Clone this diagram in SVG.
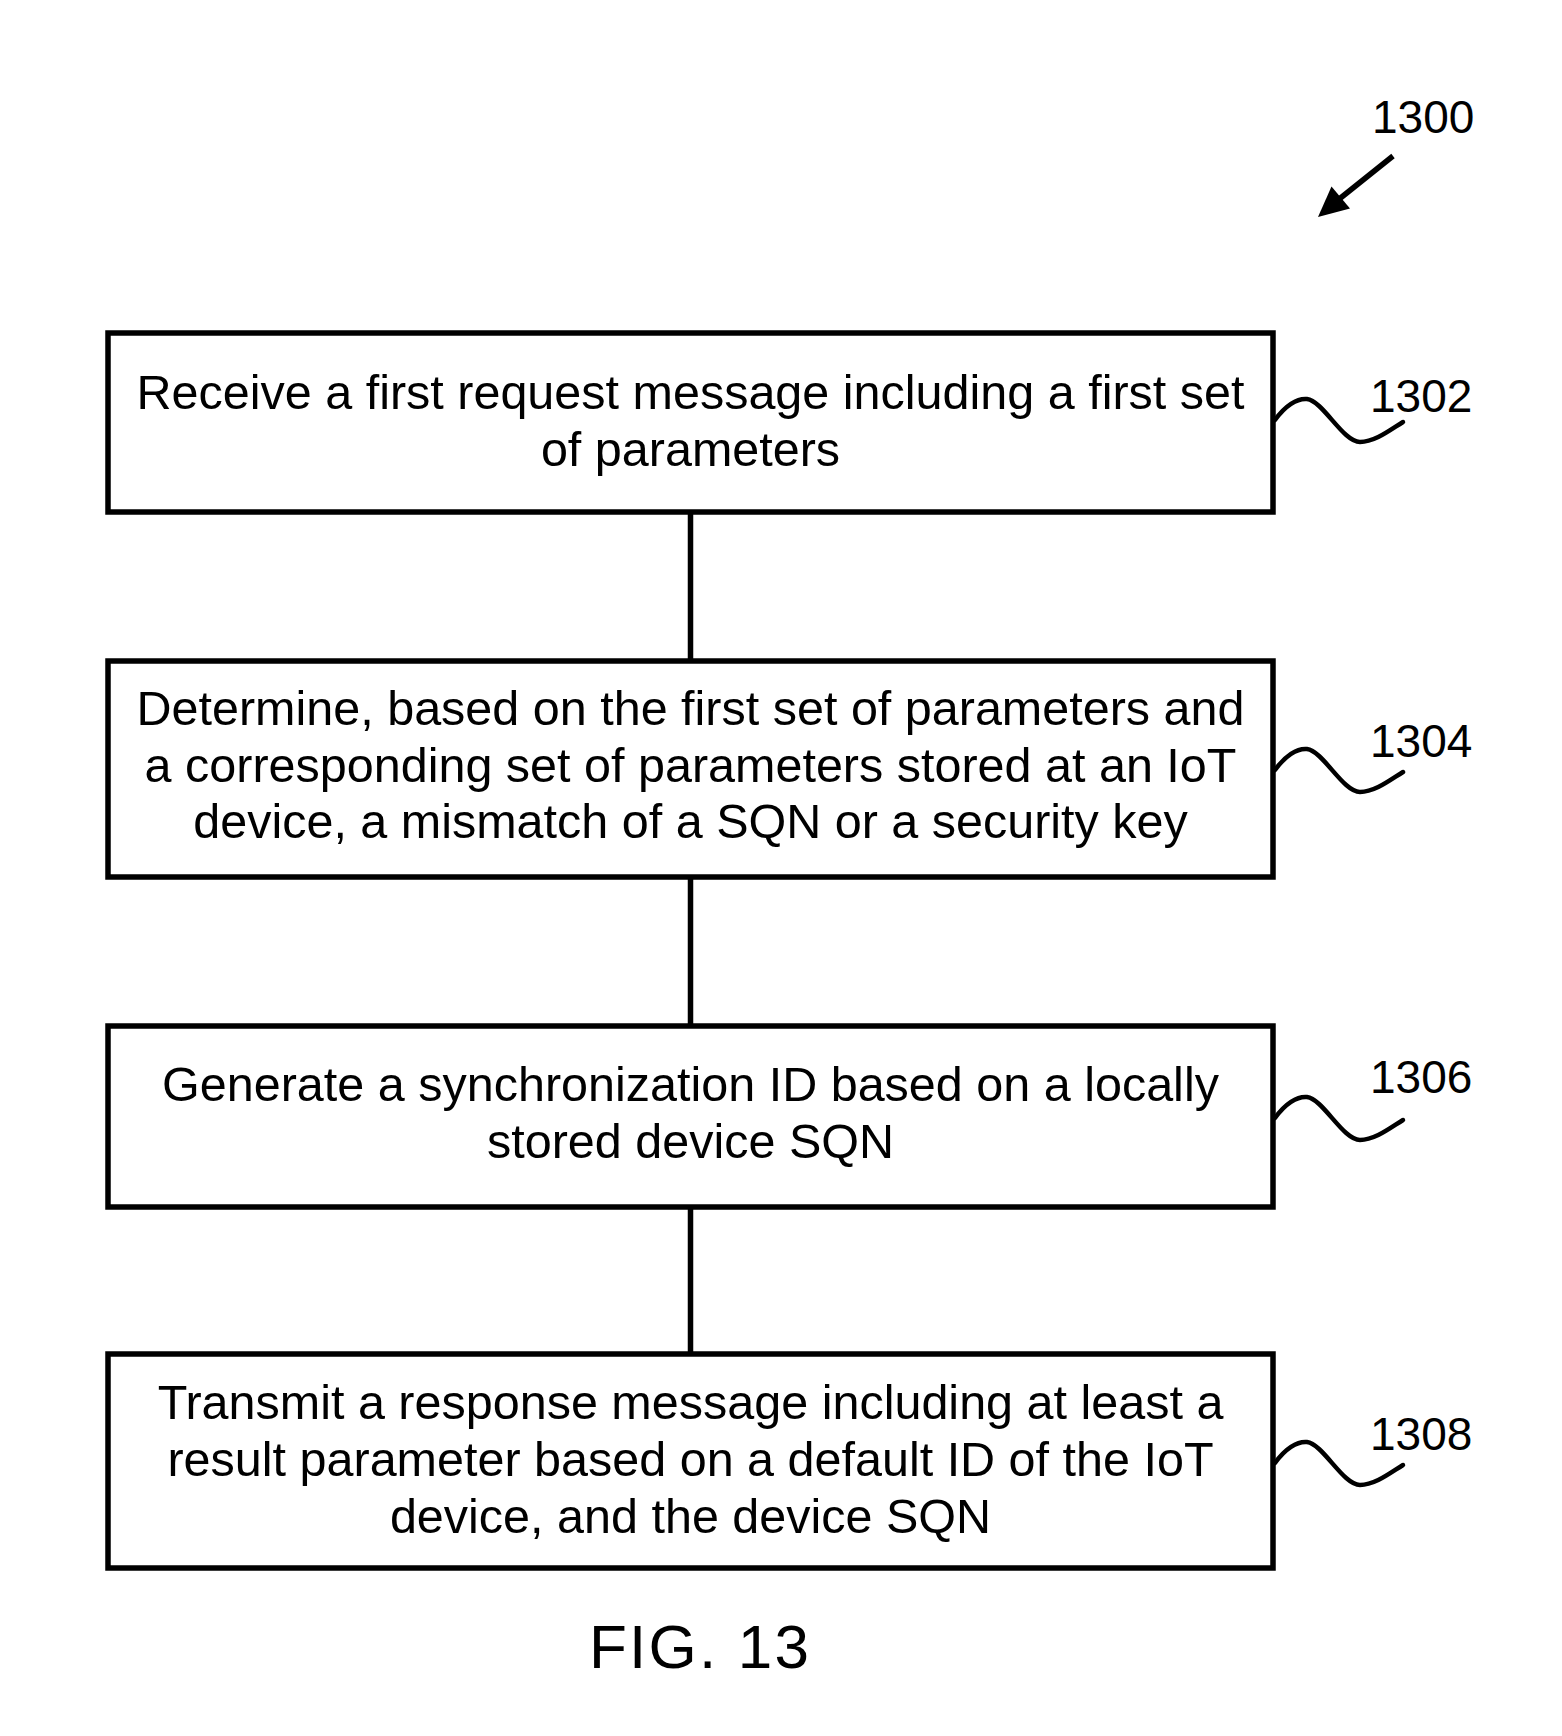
<svg xmlns="http://www.w3.org/2000/svg" xmlns:xlink="http://www.w3.org/1999/xlink" width="1562" height="1736" viewBox="0 0 1562 1736">
<style>
.box{fill:#fff;stroke:#000;stroke-width:5.5}
.txt{font-family:"Liberation Sans",Arial,sans-serif;font-size:48.5px;fill:#000;text-anchor:middle}
.lbl{font-family:"Liberation Sans",Arial,sans-serif;font-size:46px;fill:#000}
.conn{stroke:#000;stroke-width:5.5;fill:none}
.sq{stroke:#000;stroke-width:4.5;fill:none;stroke-linecap:round}
</style>
<defs>
<path id="squig" d="M0,0 C10,-14 22,-22 32,-21 C48,-19 68,22 85,22 C100,22 115,10 128,2"/>
</defs>
<rect width="1562" height="1736" fill="#fff"/>
<g id="ref1300">
<text class="lbl" x="1372" y="133">1300</text>
<line x1="1393" y1="156" x2="1338" y2="200" stroke="#000" stroke-width="5.5"/>
<polygon points="1318,217 1331.5,186.5 1350,208.5" fill="#000"/>
</g>
<g id="connectors">
<line class="conn" x1="690.5" y1="512" x2="690.5" y2="661"/>
<line class="conn" x1="690.5" y1="877" x2="690.5" y2="1026"/>
<line class="conn" x1="690.5" y1="1207" x2="690.5" y2="1354"/>
</g>
<g id="node1302">
<rect class="box" x="108" y="333" width="1165" height="179"/>
<text class="txt" x="690.5" y="409">Receive a first request message including a first set</text>
<text class="txt" x="690.5" y="466">of parameters</text>
<use xlink:href="#squig" class="sq" x="1275" y="420"/>
<text class="lbl" x="1370" y="412">1302</text>
</g>
<g id="node1304">
<rect class="box" x="108" y="661" width="1165" height="216"/>
<text class="txt" x="690.5" y="725">Determine, based on the first set of parameters and</text>
<text class="txt" x="690.5" y="782">a corresponding set of parameters stored at an IoT</text>
<text class="txt" x="690.5" y="838">device, a mismatch of a SQN or a security key</text>
<use xlink:href="#squig" class="sq" x="1275" y="770"/>
<text class="lbl" x="1370" y="757">1304</text>
</g>
<g id="node1306">
<rect class="box" x="108" y="1026" width="1165" height="181"/>
<text class="txt" x="690.5" y="1101">Generate a synchronization ID based on a locally</text>
<text class="txt" x="690.5" y="1158">stored device SQN</text>
<use xlink:href="#squig" class="sq" x="1275" y="1118"/>
<text class="lbl" x="1370" y="1093">1306</text>
</g>
<g id="node1308">
<rect class="box" x="108" y="1354" width="1165" height="214"/>
<text class="txt" x="690.5" y="1419">Transmit a response message including at least a</text>
<text class="txt" x="690.5" y="1476">result parameter based on a default ID of the IoT</text>
<text class="txt" x="690.5" y="1533">device, and the device SQN</text>
<use xlink:href="#squig" class="sq" x="1275" y="1463"/>
<text class="lbl" x="1370" y="1450">1308</text>
</g>
<text x="589" y="1668" font-family="Liberation Sans, Arial, sans-serif" font-size="62" textLength="220" lengthAdjust="spacing">FIG. 13</text>
</svg>
